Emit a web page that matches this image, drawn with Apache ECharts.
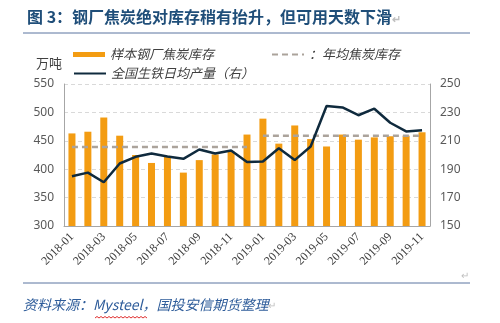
<!DOCTYPE html>
<html>
<head>
<meta charset="utf-8">
<script src="https://cdn.jsdelivr.net/npm/echarts@6/dist/echarts.min.js"></script>
<style>
  html, body { margin: 0; padding: 0; background: #fff; }
  #chart { width: 500px; height: 323px; }
</style>
</head>
<body>
<div id="chart"></div>
<script>
// Monthly categories, Jan 2018 – Nov 2019
const months = [
  '2018-01','2018-02','2018-03','2018-04','2018-05','2018-06',
  '2018-07','2018-08','2018-09','2018-10','2018-11','2018-12',
  '2019-01','2019-02','2019-03','2019-04','2019-05','2019-06',
  '2019-07','2019-08','2019-09','2019-10','2019-11'
];

// Sample steel mills' coke inventory (万吨, left axis)
const cokeStock = [463, 466, 491, 459, 425, 411, 423, 394, 416, 426, 431, 461,
                   489, 445, 477, 453, 440, 461, 452, 456, 458, 459, 465];

// National daily average pig iron output (万吨, right axis)
const ironOutput = [185, 187.6, 180.8, 194, 198.7, 201, 199, 197.3, 203.9, 201, 203.2, 195,
                    195.4, 204.8, 196.4, 206, 234.5, 233.5, 228, 232.6, 222.7, 216.6, 217.5];

// Yearly average coke inventory, one segment per year
const avgStock2018 = [439, 439, 439, 439, 439, 439, 439, 439, 439, 439, 439, 439,
                      null, null, null, null, null, null, null, null, null, null, null];
const avgStock2019 = [null, null, null, null, null, null, null, null, null, null, null, null,
                      459, 459, 459, 459, 459, 459, 459, 459, 459, 459, 459];

// Axis ticks
const leftTicks = { min: 300, max: 550, interval: 50 };
const rightTicks = { min: 150, max: 250, interval: 20 };

const NAVY = '#1f4e79';
const ORANGE = '#f39c12';
const DARK = '#0f2a3d';
const GREY_DASH = '#aba39b';
const CJK = '"Noto Sans CJK SC", "Noto Sans", sans-serif';

function avgWithLabel(arr, idx, offset) {
  return arr.map((v, i) => i === idx ? {
    value: v,
    label: {
      show: true, position: 'top', distance: 4, offset: offset,
      formatter: '{c}', color: '#404040', fontSize: 13,
      fontFamily: '"Noto Sans", sans-serif'
    }
  } : v);
}

const legendText = { fontSize: 13, fontStyle: 'italic', color: '#404040', fontFamily: CJK };

const chart = echarts.init(document.getElementById('chart'), null, { renderer: 'canvas' });

chart.setOption({
  backgroundColor: '#ffffff',
  animation: false,
  title: {
    left: 22, top: 4,
    text: '{t|图 3：钢厂焦炭绝对库存稍有抬升，但可用天数下滑}{r|↵}',
    textStyle: {
      rich: {
        t: { fontSize: 16, fontWeight: 'bold', color: NAVY, fontFamily: CJK },
        r: { fontSize: 11, color: '#c0c0c0', fontFamily: CJK, padding: [4, 0, 0, 0] }
      }
    }
  },
  legend: [
    {
      left: 68, top: 43, itemGap: 57, itemWidth: 32, itemHeight: 5,
      textStyle: legendText,
      data: [
        { name: '样本钢厂焦炭库存', icon: 'rect' },
        { name: '：年均焦炭库存', itemStyle: { opacity: 0 } }
      ]
    },
    {
      left: 68, top: 62, itemWidth: 32, itemHeight: 5,
      textStyle: legendText,
      data: [{ name: '全国生铁日均产量（右）', itemStyle: { opacity: 0 } }]
    }
  ],
  grid: { left: 64, right: 70, top: 84, bottom: 97, containLabel: false },
  xAxis: {
    type: 'category',
    data: months,
    boundaryGap: true,
    axisLine: { show: true, lineStyle: { color: '#a6a6a6', width: 1 } },
    axisTick: { show: false },
    axisLabel: {
      interval: 1, rotate: 45, margin: 9,
      fontSize: 12, color: '#404040', fontFamily: '"Liberation Serif", serif'
    }
  },
  yAxis: [
    {
      type: 'value', position: 'left',
      min: leftTicks.min, max: leftTicks.max, interval: leftTicks.interval,
      name: '万吨', nameLocation: 'end', nameGap: 14,
      nameTextStyle: { align: 'right', fontSize: 13, color: '#404040', fontFamily: CJK, padding: [0, 2, 0, 0] },
      axisLine: { show: true, lineStyle: { color: '#a6a6a6' } },
      axisTick: { show: false },
      axisLabel: { fontSize: 12, color: '#595959', margin: 10, fontFamily: '"Noto Sans", sans-serif' },
      splitLine: { show: true, lineStyle: { color: '#d9d9d9', type: [4, 3], width: 1 } }
    },
    {
      type: 'value', position: 'right',
      min: rightTicks.min, max: rightTicks.max, interval: rightTicks.interval,
      axisLine: { show: true, lineStyle: { color: '#a6a6a6' } },
      axisTick: { show: false },
      axisLabel: { fontSize: 12, color: '#595959', margin: 10, fontFamily: '"Noto Sans", sans-serif' },
      splitLine: { show: false }
    }
  ],
  series: [
    {
      name: '样本钢厂焦炭库存',
      type: 'bar',
      yAxisIndex: 0,
      data: cokeStock,
      barWidth: 7,
      itemStyle: { color: ORANGE },
      z: 2
    },
    {
      name: '：年均焦炭库存',
      type: 'line',
      yAxisIndex: 0,
      data: avgWithLabel(avgStock2018, 5, [7, 0]),
      symbol: 'none',
      lineStyle: { color: GREY_DASH, width: 2.5, type: [6, 4] },
      itemStyle: { color: GREY_DASH },
      z: 3
    },
    {
      name: '：年均焦炭库存',
      type: 'line',
      yAxisIndex: 0,
      data: avgWithLabel(avgStock2019, 17, [10, 0]),
      symbol: 'none',
      lineStyle: { color: GREY_DASH, width: 2.5, type: [6, 4] },
      itemStyle: { color: GREY_DASH },
      z: 3
    },
    {
      name: '全国生铁日均产量（右）',
      type: 'line',
      yAxisIndex: 1,
      data: ironOutput,
      symbol: 'none',
      lineStyle: { color: DARK, width: 2.5 },
      itemStyle: { color: DARK },
      z: 4
    }
  ],
  graphic: [
    { type: 'line', shape: { x1: 23, y1: 33, x2: 470, y2: 33 }, style: { stroke: '#5a74a0', lineWidth: 1 } },
    { type: 'line', shape: { x1: 23, y1: 283, x2: 470, y2: 283 }, style: { stroke: '#5a74a0', lineWidth: 1 } },
    { type: 'text', left: 461, top: 270, style: { text: '↵', fontSize: 10, fill: '#c0c0c0', fontFamily: CJK } },
    {
      type: 'text', left: 23, top: 298,
      style: {
        text: '{a|资料来源：Mysteel，国投安信期货整理}{r|↵}',
        rich: {
          a: { fontSize: 14, fontStyle: 'italic', fill: '#2e5c9a', fontFamily: CJK },
          r: { fontSize: 10, fill: '#c0c0c0', fontFamily: CJK }
        }
      }
    },
    {
      type: 'polyline',
      shape: { points: [[95,318],[97,316.5],[99,318],[101,316.5],[103,318],[105,316.5],[107,318],[109,316.5],[111,318],[113,316.5],[115,318],[117,316.5],[119,318],[121,316.5],[123,318],[125,316.5],[127,318],[129,316.5],[131,318],[133,316.5],[135,318],[137,316.5],[139,318],[141,316.5],[143,318],[145,316.5],[147,318]] },
      style: { stroke: '#e03030', lineWidth: 1, fill: null }
    }
  ]
});
</script>
</body>
</html>
